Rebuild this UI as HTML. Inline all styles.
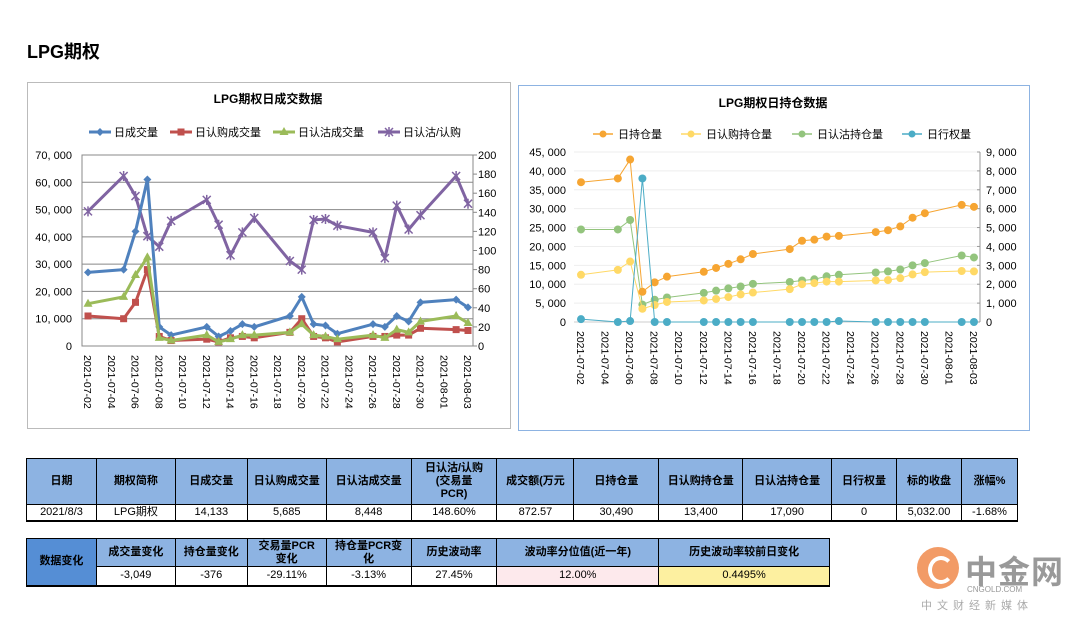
<!DOCTYPE html>
<html><head><meta charset="utf-8">
<style>
body{margin:0;width:1080px;height:622px;background:#fff;overflow:hidden;position:relative;font-family:"Liberation Sans","Noto Sans CJK SC",sans-serif;}
.abs{position:absolute;}
table{border-collapse:collapse;position:absolute;font-family:"Liberation Sans","Noto Sans CJK SC",sans-serif;font-size:11px;}
td{border:1px solid #000;text-align:center;padding:0;line-height:13px;}
.h{background:#8db3e2;font-weight:bold;}
.w{background:#fff;}
</style></head><body>
<div class="abs" style="left:27px;top:38px;font-size:18px;font-weight:bold;">LPG期权</div>
<svg id="left" class="abs" style="left:0;top:0" width="1080" height="622"></svg>

<table style="left:26px;top:458px;width:992px;border-bottom:2px solid #000;">
<colgroup><col style="width:70px"><col style="width:79px"><col style="width:72px"><col style="width:79px"><col style="width:85px"><col style="width:86px"><col style="width:77px"><col style="width:85px"><col style="width:84px"><col style="width:89px"><col style="width:65px"><col style="width:65px"><col style="width:56px"></colgroup>
<tr style="height:46px"><td class="h">日期</td><td class="h">期权简称</td><td class="h">日成交量</td><td class="h">日认购成交量</td><td class="h">日认沽成交量</td><td class="h">日认沽/认购<br>(交易量<br>PCR)</td><td class="h">成交额(万元</td><td class="h">日持仓量</td><td class="h">日认购持仓量</td><td class="h">日认沽持仓量</td><td class="h">日行权量</td><td class="h">标的收盘</td><td class="h">涨幅%</td></tr>
<tr style="height:16px"><td>2021/8/3</td><td>LPG期权</td><td>14,133</td><td>5,685</td><td>8,448</td><td>148.60%</td><td>872.57</td><td>30,490</td><td>13,400</td><td>17,090</td><td>0</td><td>5,032.00</td><td>-1.68%</td></tr>
</table>

<table style="left:26px;top:538px;width:804px;border-bottom:2px solid #000;">
<colgroup><col style="width:70px"><col style="width:79px"><col style="width:72px"><col style="width:79px"><col style="width:85px"><col style="width:86px"><col style="width:162px"><col style="width:171px"></colgroup>
<tr style="height:28px"><td rowspan="2" style="background:#558ed5;font-weight:bold;">数据变化</td><td class="h">成交量变化</td><td class="h">持仓量变化</td><td class="h">交易量PCR<br>变化</td><td class="h">持仓量PCR变<br>化</td><td class="h">历史波动率</td><td class="h">波动率分位值(近一年)</td><td class="h">历史波动率较前日变化</td></tr>
<tr style="height:19px"><td>-3,049</td><td>-376</td><td>-29.11%</td><td>-3.13%</td><td>27.45%</td><td style="background:#fde9ec">12.00%</td><td style="background:#fdf0a0">0.4495%</td></tr>
</table>

<div class="abs" style="left:915px;top:545px;width:160px;height:70px;">
<div style="position:absolute;left:2px;top:2px;width:42px;height:42px;border-radius:50%;background:#f08a4b;opacity:.85"></div>
<div style="position:absolute;left:13px;top:11px;width:18px;height:20px;border-radius:50%;border:4px solid #fff;border-right-color:transparent"></div>
<div style="position:absolute;left:50px;top:2px;font-size:32px;color:#999;font-weight:bold;letter-spacing:1px;">中金网</div>
<div style="position:absolute;left:52px;top:40px;font-size:8px;color:#999;">CNGOLD.COM</div>
<div style="position:absolute;left:6px;top:52px;font-size:11px;color:#aaa;letter-spacing:5px;">中文财经新媒体</div>
</div>

<script>
const dates=["2021-07-02","2021-07-05","2021-07-06","2021-07-07","2021-07-08","2021-07-09","2021-07-12","2021-07-13","2021-07-14","2021-07-15","2021-07-16","2021-07-19","2021-07-20","2021-07-21","2021-07-22","2021-07-23","2021-07-26","2021-07-27","2021-07-28","2021-07-29","2021-07-30","2021-08-02","2021-08-03"];
const tickDates=["2021-07-02","2021-07-04","2021-07-06","2021-07-08","2021-07-10","2021-07-12","2021-07-14","2021-07-16","2021-07-18","2021-07-20","2021-07-22","2021-07-24","2021-07-26","2021-07-28","2021-07-30","2021-08-01","2021-08-03"];
const volTotal=[27000,28000,42000,61000,7000,4000,7000,3500,5500,8000,7000,11000,18000,8000,7500,4500,8000,7000,11000,9000,16000,17000,14133];
const volCall=[11000,10000,16000,28000,3500,2000,2500,1500,3000,3500,3000,5000,10000,3500,3000,1500,3500,3500,4000,4000,6500,6000,5685];
const volPut=[15500,18000,26000,32500,3000,2000,4000,1500,2500,4000,4000,5000,8000,4000,3500,2500,4000,3000,6000,5000,9000,11000,8448];
const volPCR=[141,178,157,115,104,131,153,127,95,119,134,89,80,132,133,126,119,92,147,122,137,178,149];
const oiTotal=[37000,38000,43000,8000,10500,12000,13300,14300,15400,16600,18000,19300,21500,21800,22600,22800,23800,24300,25300,27600,28800,31000,30490];
const oiCall=[12500,13800,16000,3500,4500,5300,5700,6100,6600,7300,7800,8700,10000,10300,10700,10700,11000,11100,11600,12600,13200,13500,13400];
const oiPut=[24500,24500,27000,4600,5900,6500,7700,8300,8900,9400,10100,10600,11000,11300,12100,12500,13100,13400,13900,15000,15600,17600,17090];
const exercise=[150,0,50,7600,0,0,0,0,0,0,0,0,0,0,0,50,0,0,0,0,0,0,0];
const leftTicksL=[0,10000,20000,30000,40000,50000,60000,70000];
const leftTicksR=[0,20,40,60,80,100,120,140,160,180,200];
const rightTicksL=[0,5000,10000,15000,20000,25000,30000,35000,40000,45000];
const rightTicksR=[0,1000,2000,3000,4000,5000,6000,7000,8000,9000];

const NS="http://www.w3.org/2000/svg";
const svg=document.getElementById('left');
function mk(tag,attrs,parent,text){const e=document.createElementNS(NS,tag);for(const k in attrs)e.setAttribute(k,attrs[k]);if(text!==undefined)e.textContent=text;(parent||svg).appendChild(e);return e;}
const day=s=>(Date.parse(s)-Date.parse("2021-07-02"))/86400000;
const fmt=v=>v.toLocaleString('en-US');
const FONT='"Liberation Sans","Noto Sans CJK SC",sans-serif';

// ===== Left chart =====
const L={x0:82,x1:473,y0:346,y1:155,dx0:88,dpx:11.875};
const lx=d=>L.dx0+day(d)*L.dpx;
const lyL=v=>L.y0-v/70000*(L.y0-L.y1);
const lyR=v=>L.y0-v/200*(L.y0-L.y1);
let box=mk('rect',{x:27.5,y:82.5,width:483,height:346,fill:'#fff',stroke:'#bbb'});


let t=mk('text',{x:268,y:103,'text-anchor':'middle','font-size':12,'font-weight':'bold','font-family':FONT},svg,'LPG期权日成交数据');


mk('rect',{x:L.x0,y:L.y1,width:L.x1-L.x0,height:L.y0-L.y1,fill:'none',stroke:'#888'});
leftTicksL.forEach(v=>{
  const y=lyL(v);
  const g=mk('line',{x1:L.x0,x2:L.x1,y1:y,y2:y,stroke:'#888','stroke-width':1});
  
  
  const tx=mk('text',{x:72,y:y+4,'text-anchor':'end','font-size':11,'font-family':FONT},svg,fmt(v).replace(',',', '));
  
  
});
leftTicksR.forEach(v=>{
  const y=lyR(v);
  mk('line',{x1:L.x1,x2:L.x1+4,y1:y,y2:y,stroke:'#888'});
  const tx=mk('text',{x:478,y:y+4,'font-size':11,'font-family':FONT},svg,v);
  
  
});
tickDates.forEach(d=>{
  const x=lx(d);
  const tx=mk('text',{x:0,y:0,transform:`translate(${x-4},355) rotate(90)`,'font-size':10.5,'font-family':FONT},svg,d);
  
  
});
function marker(kind,x,y,c,parent){
  if(kind==='diamond')return mk('path',{d:`M${x} ${y-4}L${x+4} ${y}L${x} ${y+4}L${x-4} ${y}Z`,fill:c},parent);
  if(kind==='square')return mk('rect',{x:x-3.5,y:y-3.5,width:7,height:7,fill:c},parent);
  if(kind==='tri')return mk('path',{d:`M${x} ${y-5}L${x+4.5} ${y+3}L${x-4.5} ${y+3}Z`,fill:c},parent);
  if(kind==='star')return mk('path',{d:`M${x-4} ${y-4}L${x+4} ${y+4}M${x+4} ${y-4}L${x-4} ${y+4}M${x} ${y-5}V${y+5}`,stroke:c,'stroke-width':1.5},parent);
  if(kind==='circle')return mk('circle',{cx:x,cy:y,r:4,fill:c},parent);
}
function series(vals,xf,yf,color,w,kind,name){
  const g=mk('g',{});
  
  
  mk('polyline',{points:vals.map((v,i)=>xf(dates[i])+','+yf(v)).join(' '),fill:'none',stroke:color,'stroke-width':w,'stroke-linejoin':'round'},g);
  vals.forEach((v,i)=>{const m=marker(kind,xf(dates[i]),yf(v),color,g);
    
    });
}
series(volPCR,lx,lyR,'#8064a2',3,'star','series-put-call-ratio');
series(volTotal,lx,lyL,'#4f81bd',3,'diamond','series-daily-volume');
series(volCall,lx,lyL,'#c0504d',3,'square','series-call-volume');
series(volPut,lx,lyL,'#9bbb59',3,'tri','series-put-volume');
[['日成交量','#4f81bd','diamond',89],['日认购成交量','#c0504d','square',170],['日认沽成交量','#9bbb59','tri',273],['日认沽/认购','#8064a2','star',378]].forEach(([n,c,k,x])=>{
  const g=mk('g',{});
  
  
  mk('line',{x1:x,x2:x+22,y1:132,y2:132,stroke:c,'stroke-width':3},g);
  marker(k,x+11,132,c,g);
  mk('text',{x:x+25,y:136,'font-size':11,'font-family':FONT},g,n);
});

// ===== Right chart =====
const R={x0:574,x1:980,y0:322,y1:152,dx0:581,dpx:12.28};
const rx=d=>R.dx0+day(d)*R.dpx;
const ryL=v=>R.y0-v/45000*(R.y0-R.y1);
const ryR=v=>R.y0-v/9000*(R.y0-R.y1);
box=mk('rect',{x:518.5,y:85.5,width:511,height:345,fill:'#fff',stroke:'#8db3e2'});


t=mk('text',{x:773,y:107,'text-anchor':'middle','font-size':12,'font-weight':'bold','font-family':FONT},svg,'LPG期权日持仓数据');


rightTicksL.forEach(v=>{
  const y=ryL(v);
  const g=mk('line',{x1:R.x0,x2:R.x1,y1:y,y2:y,stroke:v===0?'#ccc':'#eee'});
  
  
  const tx=mk('text',{x:566,y:y+4,'text-anchor':'end','font-size':11,'font-family':FONT},svg,fmt(v).replace(',',', '));
  
  
});
mk('line',{x1:R.x1,x2:R.x1,y1:R.y1,y2:R.y0,stroke:'#999'});
rightTicksR.forEach(v=>{
  const y=ryR(v);
  mk('line',{x1:R.x1-3,x2:R.x1,y1:y,y2:y,stroke:'#999'});
  const tx=mk('text',{x:986,y:y+4,'font-size':11,'font-family':FONT},svg,fmt(v).replace(',',', '));
  
  
});
tickDates.forEach(d=>{
  const x=rx(d);
  const tx=mk('text',{x:0,y:0,transform:`translate(${x-4},331) rotate(90)`,'font-size':10.5,'font-family':FONT},svg,d);
  
  
});
series(oiPut,rx,ryL,'#93c47d',1,'circle','series-put-open-interest');
series(oiCall,rx,ryL,'#ffd966',1,'circle','series-call-open-interest');
series(oiTotal,rx,ryL,'#f6a532',1,'circle','series-open-interest');
series(exercise,rx,ryR,'#4bacc6',1,'circle','series-exercise');
[['日持仓量','#f6a532',593],['日认购持仓量','#ffd966',681],['日认沽持仓量','#93c47d',792],['日行权量','#4bacc6',902]].forEach(([n,c,x])=>{
  const g=mk('g',{});
  
  
  mk('line',{x1:x,x2:x+20,y1:134,y2:134,stroke:c,'stroke-width':1.5},g);
  mk('circle',{cx:x+10,cy:134,r:3.5,fill:c},g);
  mk('text',{x:x+25,y:138,'font-size':11,'font-family':FONT},g,n);
});
</script>
</body></html>
